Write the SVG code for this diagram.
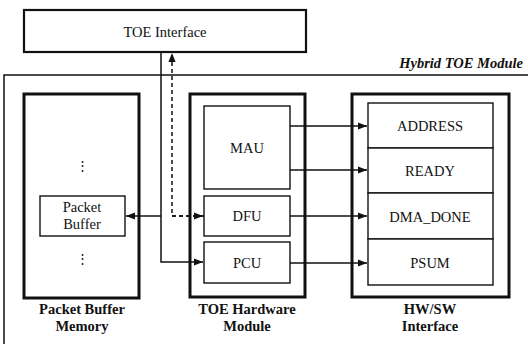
<svg xmlns="http://www.w3.org/2000/svg" width="528" height="344" viewBox="0 0 528 344">
<style>
.t{font-size:14.5px;fill:#111;text-anchor:middle}
.b{font-weight:bold;font-size:14.5px}
.bi{font-weight:bold;font-style:italic;text-anchor:end}
.thick{fill:#fff;stroke:#111;stroke-width:3}
.mid{fill:#fff;stroke:#111;stroke-width:2.2}
.thin{fill:#fff;stroke:#111;stroke-width:1.4}
.ln{fill:none;stroke:#111;stroke-width:1.5}
.dash{fill:none;stroke:#111;stroke-width:1.5;stroke-dasharray:4 3}
</style>
<defs>
<marker id="ah" viewBox="0 0 10 10" refX="10" refY="5" markerWidth="9" markerHeight="9" markerUnits="userSpaceOnUse" orient="auto">
<path d="M0,1 L10,5 L0,9 Z" fill="#111"/>
</marker>
</defs>
<rect width="528" height="344" fill="#fff"/>
<g font-family="Liberation Serif, Times New Roman, serif">
<g id="hybrid-module">
<path d="M4,344 V75 H528" fill="none" stroke="#111" stroke-width="1.5"/>
<text class="t bi" x="523" y="68">Hybrid TOE Module</text>
</g>
<g id="toe-interface">
<rect class="mid" x="24" y="10" width="282" height="42"/>
<text class="t" x="165" y="37">TOE Interface</text>
</g>
<g id="packet-buffer-memory">
<rect class="thick" x="24" y="94" width="115" height="204"/>
<text class="t" x="82" y="170" style="font-size:13px">⋮</text>
<text class="t" x="82" y="263" style="font-size:13px">⋮</text>
<text class="t b" x="82" y="314">Packet Buffer</text>
<text class="t b" x="82" y="331">Memory</text>
</g>
<g id="packet-buffer">
<rect class="thin" x="40" y="196" width="85" height="40"/>
<text class="t" x="82" y="212">Packet</text>
<text class="t" x="82" y="229">Buffer</text>
</g>
<g id="toe-hardware-module">
<rect class="thick" x="190" y="94" width="115" height="203"/>
<text class="t b" x="247" y="314">TOE Hardware</text>
<text class="t b" x="247" y="331">Module</text>
</g>
<g id="mau">
<rect class="thin" x="204" y="106" width="86" height="83"/>
<text class="t" x="247" y="153">MAU</text>
</g>
<g id="dfu">
<rect class="thin" x="204" y="196" width="86" height="40"/>
<text class="t" x="247" y="221">DFU</text>
</g>
<g id="pcu">
<rect class="thin" x="204" y="242" width="86" height="41"/>
<text class="t" x="247" y="268">PCU</text>
</g>
<g id="hwsw-interface">
<rect class="thick" x="352" y="94" width="157" height="203"/>
<text class="t b" x="430" y="314">HW/SW</text>
<text class="t b" x="430" y="331">Interface</text>
</g>
<g id="address">
<rect class="thin" x="368" y="103" width="125" height="45"/>
<text class="t" x="430" y="131">ADDRESS</text>
</g>
<g id="ready">
<rect class="thin" x="368" y="148" width="125" height="45"/>
<text class="t" x="430" y="176">READY</text>
</g>
<g id="dma-done">
<rect class="thin" x="368" y="193" width="125" height="46"/>
<text class="t" x="430" y="222">DMA_DONE</text>
</g>
<g id="psum">
<rect class="thin" x="368" y="239" width="125" height="46"/>
<text class="t" x="430" y="268">PSUM</text>
</g>
</g>
<g id="connectors">
<path class="ln" d="M161,52 V262 H203" marker-end="url(#ah)"/>
<path class="ln" d="M161,216 H126" marker-end="url(#ah)"/>
<path class="dash" d="M204,216 H172 V53" marker-end="url(#ah)"/>
<path class="dash" d="M172,216 H203" marker-end="url(#ah)"/>
<path class="ln" d="M290,126 H367" marker-end="url(#ah)"/>
<path class="ln" d="M290,170 H367" marker-end="url(#ah)"/>
<path class="ln" d="M290,216 H367" marker-end="url(#ah)"/>
<path class="ln" d="M290,263 H367" marker-end="url(#ah)"/>
</g>
</svg>
